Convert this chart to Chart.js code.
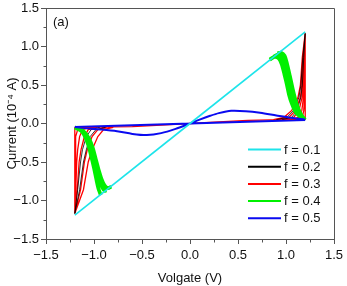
<!DOCTYPE html>
<html>
<head>
<meta charset="utf-8">
<script src="https://cdn.jsdelivr.net/npm/chart.js@4.4.1/dist/chart.umd.min.js"></script>
<style>
  html, body { margin: 0; padding: 0; background: #fff; }
  canvas { display: block; }
</style>
</head>
<body>
<canvas id="ivChart" width="347" height="286"></canvas>
<script>
// legend labels, one per sweep
const seriesLabels = ['f = 0.1', 'f = 0.2', 'f = 0.3', 'f = 0.4', 'f = 0.5'];
const axisTicks = [-1.5, -1.0, -0.5, 0.0, 0.5, 1.0, 1.5];

// f = 0.1 : straight line
const cyanLine = [[-1.2, -1.19], [0, 0], [1.2, 1.19]];

// f = 0.2 : thin decay curves
const blackDecayPos = [
  [[1.2, 1.17], [1.185, 0.86], [1.17, 0.5], [1.155, 0.34], [1.115, 0.17], [1.06, 0.08], [0.96, 0.05]],
  [[1.2, 1.17], [1.175, 0.86], [1.155, 0.5], [1.135, 0.34], [1.08, 0.17], [1.01, 0.08], [0.9, 0.05]]
];
const blackDecayNeg = [
  [[-1.2, -1.17], [-1.17, -0.86], [-1.14, -0.5], [-1.12, -0.34], [-1.08, -0.17], [-1.03, -0.08], [-0.94, -0.05]],
  [[-1.2, -1.17], [-1.15, -0.86], [-1.11, -0.5], [-1.08, -0.34], [-1.04, -0.17], [-0.98, -0.08], [-0.88, -0.05]]
];

// f = 0.3 : low branch, switching edges, decays of several cycles
const redLow = [[-1.2, -0.05], [-0.6, -0.04], [0, 0], [0.6, 0.04], [1.2, 0.055]];
const redRise = [
  [[1.2, 0.05], [1.2, 1.17]],
  [[-1.2, -0.05], [-1.2, -1.17]]
];
const redDecayPos = [
  [[1.2, 1.17], [1.197, 0.86], [1.195, 0.5], [1.192, 0.34], [1.185, 0.17], [1.17, 0.08], [1.1, 0.05]],
  [[1.2, 1.17], [1.194, 0.86], [1.188, 0.5], [1.182, 0.34], [1.165, 0.17], [1.13, 0.08], [1.05, 0.05]],
  [[1.2, 1.17], [1.188, 0.86], [1.178, 0.5], [1.168, 0.34], [1.135, 0.17], [1.08, 0.08], [0.98, 0.05]],
  [[1.2, 1.17], [1.18, 0.86], [1.165, 0.5], [1.15, 0.34], [1.1, 0.17], [1.03, 0.08], [0.92, 0.05]],
  [[1.2, 1.17], [1.17, 0.86], [1.15, 0.5], [1.125, 0.34], [1.06, 0.17], [0.98, 0.08], [0.87, 0.05]]
];
const redDecayNeg = [
  [[-1.2, -1.17], [-1.196, -0.86], [-1.194, -0.5], [-1.192, -0.34], [-1.188, -0.17], [-1.17, -0.08], [-1.1, -0.05]],
  [[-1.2, -1.17], [-1.19, -0.86], [-1.18, -0.5], [-1.17, -0.34], [-1.15, -0.17], [-1.12, -0.08], [-1.04, -0.05]],
  [[-1.2, -1.17], [-1.175, -0.86], [-1.155, -0.5], [-1.135, -0.34], [-1.1, -0.17], [-1.06, -0.08], [-0.97, -0.05]],
  [[-1.2, -1.17], [-1.14, -0.86], [-1.1, -0.5], [-1.07, -0.34], [-1.02, -0.17], [-0.96, -0.08], [-0.87, -0.05]],
  [[-1.2, -1.17], [-1.11, -0.86], [-1.06, -0.5], [-1.02, -0.34], [-0.96, -0.17], [-0.9, -0.08], [-0.8, -0.05]]
];

// f = 0.4 : switching band
const greenPos = [
  [[0.83, 0.83], [0.88, 0.865], [0.925, 0.845], [0.955, 0.77], [0.985, 0.63], [1.01, 0.5], [1.03, 0.38], [1.06, 0.26], [1.095, 0.16], [1.14, 0.095], [1.2, 0.05]],
  [[0.87, 0.87], [0.92, 0.895], [0.96, 0.86], [0.99, 0.76], [1.02, 0.6], [1.04, 0.47], [1.07, 0.33], [1.1, 0.22], [1.14, 0.13], [1.2, 0.05]],
  [[0.91, 0.91], [0.95, 0.92], [0.985, 0.88], [1.01, 0.78], [1.04, 0.62], [1.07, 0.45], [1.1, 0.3], [1.13, 0.19], [1.165, 0.1], [1.2, 0.05]]
];
const greenNeg = [
  [[-1.2, -0.05], [-1.13, -0.1], [-1.09, -0.18], [-1.06, -0.28], [-1.03, -0.42], [-1.0, -0.58], [-0.975, -0.73], [-0.955, -0.84], [-0.937, -0.905], [-0.93, -0.93]],
  [[-1.2, -0.05], [-1.12, -0.1], [-1.07, -0.19], [-1.035, -0.3], [-1.005, -0.44], [-0.975, -0.59], [-0.945, -0.73], [-0.915, -0.83], [-0.885, -0.875], [-0.87, -0.87]],
  [[-1.2, -0.05], [-1.11, -0.1], [-1.05, -0.2], [-1.012, -0.32], [-0.982, -0.46], [-0.952, -0.6], [-0.922, -0.72], [-0.892, -0.8], [-0.855, -0.84], [-0.82, -0.82]]
];

// f = 0.5 : low line plus hump / dip
const blueLow = [[-1.2, -0.045], [0, 0], [1.2, 0.045]];
const blueHump = [[0, 0], [0.1, 0.05], [0.21, 0.1], [0.3, 0.135], [0.43, 0.165], [0.58, 0.16], [0.73, 0.14], [0.9, 0.105], [1.05, 0.075], [1.2, 0.05]];
const blueDip = [[0, 0], [-0.15, -0.07], [-0.3, -0.125], [-0.45, -0.15], [-0.6, -0.135], [-0.76, -0.1], [-1.0, -0.07], [-1.2, -0.045]];

// join curves, with a gap between each
function toPoints(curves) {
  const out = [];
  curves.forEach((c, i) => {
    if (i > 0) out.push({ x: null, y: null });
    c.forEach(p => out.push({ x: p[0], y: p[1] }));
  });
  return out;
}

const datasets = [
  { label: seriesLabels[0], data: toPoints([cyanLine]), borderColor: '#1ee4ea', borderWidth: 1.6, order: 0 },
  { label: seriesLabels[1], data: toPoints([...blackDecayPos, ...blackDecayNeg]), borderColor: '#000000', borderWidth: 0.8, order: 3 },
  { label: seriesLabels[2], data: toPoints([redLow, ...redRise, ...redDecayPos, ...redDecayNeg]), borderColor: '#ff0000', borderWidth: 1.3, order: 4 },
  { label: seriesLabels[3], data: toPoints([...greenPos, ...greenNeg]), borderColor: '#00f000', borderWidth: 3.7, tension: 0.3, order: 2 },
  { label: seriesLabels[4], data: toPoints([blueLow, blueHump, blueDip]), borderColor: '#0a0af0', borderWidth: 2, tension: 0.3, order: 1 }
];
datasets.forEach(d => { d.showLine = true; d.pointRadius = 0; d.spanGaps = false; });

const fmt = v => v.toFixed(1).replace('-', '\u2212');
const FONT = 'Liberation Sans, Arial, sans-serif';
Chart.defaults.font.family = FONT;
Chart.defaults.font.size = 13;
Chart.defaults.color = '#111';

const framePlugin = {
  id: 'frame',
  afterDraw(chart) {
    const { ctx, chartArea: a, scales: { x, y } } = chart;
    const L = Math.round(a.left) + 0.5, R = Math.round(a.right) + 0.5;
    const T = Math.round(a.top) + 0.5, B = Math.round(a.bottom) + 0.5;
    ctx.save();
    ctx.strokeStyle = '#555';
    ctx.lineWidth = 1;
    ctx.beginPath();
    ctx.moveTo(L, B); ctx.lineTo(L, T); ctx.lineTo(R, T); ctx.lineTo(R, B);
    ctx.stroke();

    // minor ticks half way between labelled ones
    ctx.beginPath();
    for (let i = 0; i < x.ticks.length - 1; i++) {
      const px = Math.round(x.getPixelForValue((x.ticks[i].value + x.ticks[i + 1].value) / 2)) + 0.5;
      ctx.moveTo(px, B); ctx.lineTo(px, B + 3);
    }
    for (let i = 0; i < y.ticks.length - 1; i++) {
      const py = Math.round(y.getPixelForValue((y.ticks[i].value + y.ticks[i + 1].value) / 2)) + 0.5;
      ctx.moveTo(L, py); ctx.lineTo(L - 3, py);
    }
    ctx.stroke();

    // panel label
    ctx.fillStyle = '#111';
    ctx.font = '13px ' + FONT;
    ctx.textBaseline = 'middle';
    ctx.textAlign = 'left';
    ctx.fillText('(a)', a.left + 7, a.top + 14);

    // legend, bottom right inside the frame
    const x0 = a.right - 86, y0 = a.top + 141.5;
    chart.data.datasets.forEach((d, i) => {
      const yy = y0 + i * 17.2;
      ctx.strokeStyle = d.borderColor;
      ctx.lineWidth = 2;
      ctx.beginPath();
      ctx.moveTo(x0, yy); ctx.lineTo(x0 + 33, yy);
      ctx.stroke();
      ctx.fillText(d.label, x0 + 36, yy + 0.5);
    });
    ctx.restore();
  }
};

const ctx = document.getElementById('ivChart').getContext('2d');
new Chart(ctx, {
  type: 'scatter',
  data: { datasets },
  options: {
    responsive: false,
    animation: false,
    events: [],
    layout: { padding: { top: 8, right: 13, left: 0, bottom: 0 } },
    plugins: { legend: { display: false }, tooltip: { enabled: false } },
    elements: { point: { radius: 0 }, line: { tension: 0 } },
    scales: {
      x: {
        type: 'linear',
        min: axisTicks[0],
        max: axisTicks[axisTicks.length - 1],
        afterBuildTicks: s => { s.ticks = axisTicks.map(v => ({ value: v })); },
        ticks: { padding: 4, maxRotation: 0, color: '#111', callback: v => fmt(v) },
        grid: { drawOnChartArea: false, tickLength: 5, tickColor: '#555' },
        border: { color: '#555' },
        title: { display: true, text: 'Volgate (V)', color: '#111', padding: { top: 0, bottom: 0 } },
        afterFit: s => { s.height = 47; s.paddingLeft = 0; s.paddingRight = 0; }
      },
      y: {
        type: 'linear',
        min: axisTicks[0],
        max: axisTicks[axisTicks.length - 1],
        afterBuildTicks: s => { s.ticks = axisTicks.map(v => ({ value: v })); },
        ticks: { padding: 2, color: '#111', callback: v => fmt(v) },
        grid: { drawOnChartArea: false, tickLength: 5, tickColor: '#555' },
        border: { color: '#555' },
        title: { display: true, text: 'Current (10\u207B\u2074 A)', color: '#111', padding: { top: 5, bottom: 0 } },
        afterFit: s => { s.width = 46; s.paddingTop = 0; s.paddingBottom = 0; }
      }
    }
  },
  plugins: [framePlugin]
});
</script>
</body>
</html>
